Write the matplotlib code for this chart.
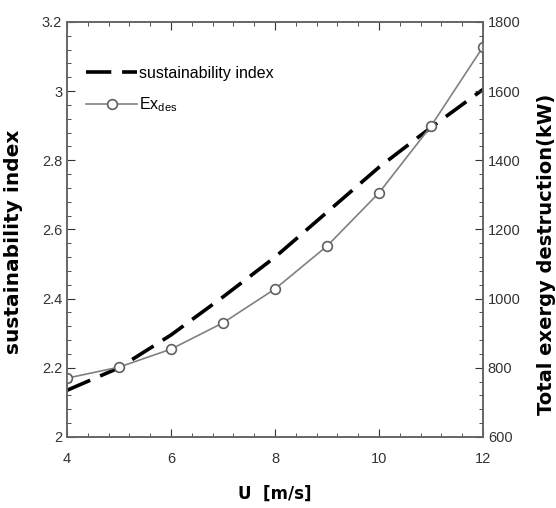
import matplotlib
matplotlib.use("Agg")
import matplotlib.pyplot as plt
from matplotlib.ticker import MultipleLocator

# Data
wind_speed = [4, 5, 6, 7, 8, 9, 10, 11, 12]
sustainability_index = [2.135, 2.2, 2.295, 2.405, 2.52, 2.65, 2.78, 2.895, 3.005]
ex_des = [770, 802, 854, 930, 1028, 1152, 1306, 1499, 1728]

plt.rcParams["font.family"] = ["Liberation Sans", "DejaVu Sans"]

fig = plt.figure(figsize=(5.56, 5.08), dpi=100)
ax = fig.add_axes([0.1205, 0.1398, 0.7482, 0.8169])
ax2 = ax.twinx()

si_line, = ax.plot(wind_speed, sustainability_index, color="black", linewidth=2.6,
                   dashes=(7, 3), label="sustainability index")
ex_line, = ax2.plot(wind_speed, ex_des, color="#808080", linewidth=1.2, marker="o",
                    markersize=7, markerfacecolor="white", markeredgecolor="#606060",
                    markeredgewidth=1.2, label="Ex$_{\\mathregular{des}}$")

ax.set_xlim(4, 12)
ax.set_ylim(2, 3.2)
ax2.set_ylim(600, 1800)

ax.xaxis.set_major_locator(MultipleLocator(2))
ax.xaxis.set_minor_locator(MultipleLocator(0.4))
ax.yaxis.set_minor_locator(MultipleLocator(0.04))
ax2.yaxis.set_major_locator(MultipleLocator(200))
ax2.yaxis.set_minor_locator(MultipleLocator(40))

ax.set_yticks([2, 2.2, 2.4, 2.6, 2.8, 3, 3.2])
ax.set_yticklabels(["2", "2.2", "2.4", "2.6", "2.8", "3", "3.2"])

ax.tick_params(axis="both", which="both", direction="in", top=True, labelsize=10.5, colors="#333333")
ax.tick_params(which="major", length=6)
ax.tick_params(which="minor", length=3)
ax.tick_params(axis="x", pad=11)
ax2.tick_params(axis="y", which="both", direction="in", labelsize=10.5, colors="#333333")
ax2.tick_params(which="major", length=6)
ax2.tick_params(which="minor", length=3)

for spine in list(ax.spines.values()) + list(ax2.spines.values()):
    spine.set_color("#666666")
    spine.set_linewidth(1.2)

ax.set_xlabel("U  [m/s]", fontsize=12, fontweight="bold", family="DejaVu Sans", labelpad=13)
ax.set_ylabel("sustainability index", fontsize=14.5, fontweight="bold", family="DejaVu Sans")
ax.yaxis.set_label_coords(-0.106, 0.47)
ax2.set_ylabel("Total exergy destruction(kW)", fontsize=14, fontweight="bold",
               family="DejaVu Sans")
ax2.yaxis.set_label_coords(1.13, 0.44)

ax.legend(handles=[si_line, ex_line], loc="upper left", bbox_to_anchor=(0.0, 0.94),
          frameon=False, fontsize=11.5, handlelength=3.2, handletextpad=0.1,
          borderaxespad=0.8, labelspacing=0.9)

fig.savefig("out.png", dpi=100)
